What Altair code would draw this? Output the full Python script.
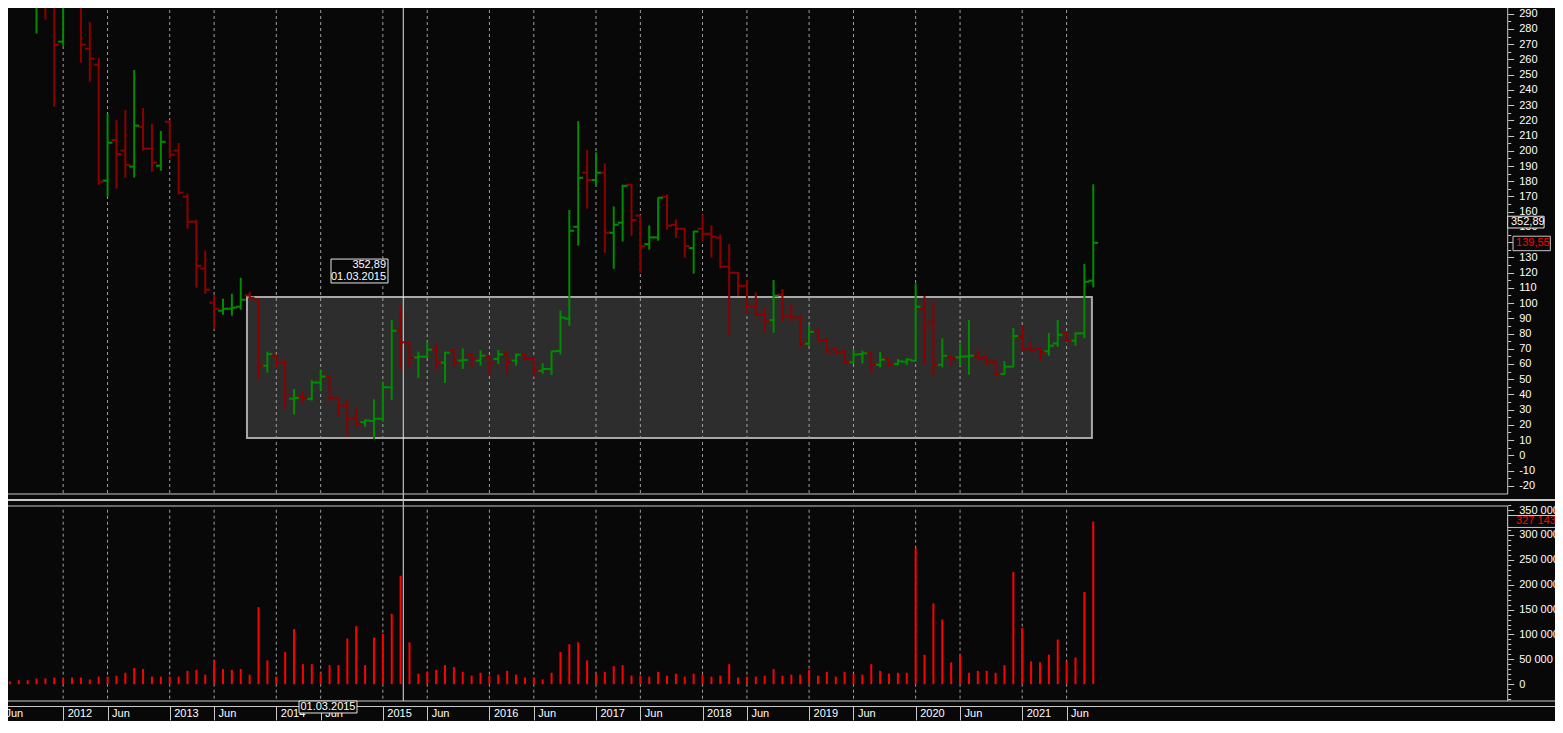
import altair as alt
import pandas as pd

# ---------------- data (months counted from Jan 2012 = 0) ----------------
months = list(range(-6, 117))  # Jul 2011 .. Sep 2021

opens = [
    None, None, None, 300, 318, 302,
    271.7, 303, 301, 267.1, 256.6, 180.4, 207.1, 200.1, 189.6, 215.8, 201.4, 190.2,
    219.1, 200.1, 169.9, 153.4, 122.6, 100.2, 95.0, 96.3, 97.6, 105.0, 102.2, 58.9,
    65.4, 61.1, 37.2, 38.6, 37.1, 47.8, 51.7, 37.7, 32.7, 24.4, 21.7, 22.6,
    24.0, 44.7, 81.8, 73.7, 64.3, 64.8, 69.4, 60.9, 68.7, 62.2, 66.3, 62.2,
    64.8, 63.3, 66.5, 62.2, 66.3, 63.7, 55.6, 56.7, 68.5, 89.7, 150.1, 185.6,
    180.8, 185.6, 146.2, 152.8, 177.7, 157.4, 138.7, 143.1, 169.8, 151.4, 148.8, 136.1,
    148.8, 145.5, 142.9, 123.9, 119.9, 111.4, 97.8, 92.3, 88.8, 105.5, 91.7, 90.4,
    73.3, 81.9, 75.7, 69.8, 68.1, 61.1, 66.5, 67.0, 59.5, 63.2, 60.0, 61.5,
    62.2, 96.1, 87.8, 59.5, 64.8, 64.3, 65.0, 65.4, 64.8, 61.5, 53.4, 58.2,
    78.4, 69.8, 69.8, 68.3, 73.5, 80.1, 75.3, 80.1, 114.7,
]
highs = [
    None, None, None, 318, 325, 306,
    312, 320, 305, 284.6, 261.0, 224.2, 220.2, 226.8, 253.1, 228.1, 217.6, 213.0,
    220.2, 205.1, 171.8, 154.7, 134.6, 105.5, 102.9, 106.1, 116.6, 107.4, 103.0, 68.1,
    66.1, 62.8, 43.6, 41.9, 49.3, 56.3, 52.4, 38.5, 36.7, 31.2, 23.7, 36.8,
    48.4, 88.9, 98.5, 74.2, 68.1, 74.4, 73.5, 68.1, 70.0, 70.2, 67.0, 68.9,
    65.2, 69.2, 68.7, 67.0, 66.5, 63.9, 60.4, 68.7, 95.0, 161.1, 219.5, 200.5,
    199.0, 191.7, 163.5, 177.7, 178.0, 157.8, 151.0, 169.4, 171.4, 154.9, 149.2, 147.3,
    158.2, 151.0, 145.1, 138.7, 120.3, 115.1, 107.0, 97.1, 115.1, 109.2, 99.3, 91.9,
    85.6, 82.3, 76.8, 70.5, 69.6, 69.8, 68.7, 67.6, 67.9, 63.9, 63.2, 63.9,
    112.9, 104.6, 100.7, 76.8, 65.4, 73.5, 88.9, 69.2, 65.7, 62.6, 61.9, 83.6,
    85.6, 74.6, 70.9, 80.3, 88.9, 80.8, 80.8, 125.6, 178.0,
]
lows = [
    None, None, None, 277, 286.1, 229,
    269, 298, 257.9, 245.4, 177.7, 169.9, 175.1, 182.4, 182.4, 200.1, 186.3, 186.9,
    194.9, 171.3, 148.8, 110.1, 106.1, 83.0, 92.3, 91.7, 95.6, 102.0, 49.7, 54.3,
    58.0, 30.5, 26.8, 34.5, 36.0, 42.5, 35.1, 25.5, 12.3, 18.4, 18.9, 10.6,
    22.1, 36.4, 56.7, 58.0, 50.8, 63.9, 56.7, 47.5, 58.5, 56.7, 57.8, 58.9,
    52.8, 60.0, 53.5, 58.9, 62.2, 51.7, 53.5, 52.8, 66.3, 85.1, 137.7, 162.0,
    176.4, 133.0, 122.5, 140.5, 144.2, 119.9, 135.0, 140.9, 148.2, 142.9, 129.8, 119.3,
    140.5, 129.8, 122.8, 79.2, 104.8, 93.2, 91.2, 81.2, 80.5, 88.0, 88.0, 71.3,
    72.1, 75.3, 67.2, 66.1, 60.4, 60.0, 60.4, 53.8, 57.8, 58.4, 59.1, 59.3,
    61.5, 59.5, 52.3, 57.8, 58.9, 58.9, 52.9, 63.2, 59.3, 52.9, 52.9, 57.8,
    68.7, 67.6, 61.5, 65.4, 71.3, 74.2, 72.0, 76.8, 110.3,
]
closes = [
    None, None, None, 308, 300, 269.7,
    303, 301, 269.7, 260.5, 179.7, 205.3, 197.9, 190.7, 216.5, 201.4, 192.2, 205.9,
    197.4, 172.5, 153.4, 124.5, 108.8, 96.3, 96.3, 97.0, 102.2, 103.5, 58.9, 66.5,
    61.1, 39.9, 37.7, 37.7, 47.8, 51.7, 37.7, 32.7, 24.4, 20.6, 22.8, 24.0,
    44.7, 81.8, 74.2, 63.9, 64.8, 69.4, 60.9, 67.4, 60.9, 62.6, 63.3, 65.4,
    60.4, 66.3, 61.5, 66.1, 63.7, 56.1, 56.7, 68.3, 90.5, 147.5, 182.3, 180.8,
    185.6, 146.2, 151.4, 177.0, 154.5, 137.4, 143.1, 169.2, 150.8, 148.8, 137.4, 147.0,
    145.5, 143.6, 123.9, 119.9, 111.4, 97.8, 92.3, 88.8, 104.8, 91.7, 91.0, 73.5,
    81.1, 75.7, 68.1, 67.6, 61.1, 66.1, 67.0, 59.5, 62.8, 60.0, 61.7, 62.8,
    97.6, 85.1, 60.0, 65.4, 63.7, 64.8, 65.4, 63.7, 61.5, 53.4, 58.2, 78.4,
    69.8, 69.2, 67.6, 72.0, 79.2, 75.3, 80.1, 114.0, 139.55,
]
volumes = [  # millions
    5.7, 7.7, 7.7, 11.5, 11.5, 13.4,
    11.5, 13.4, 13.4, 9.6, 15.3, 15.3, 17.2, 23.0, 32.5, 30.6, 15.3, 15.3,
    15.3, 15.3, 26.8, 28.7, 19.1, 47.8, 30.6, 28.7, 30.6, 19.1, 154.9, 47.8,
    15.3, 65.0, 110.9, 40.2, 40.2, 23.0, 38.3, 38.3, 91.8, 116.7, 38.3, 93.7,
    101.4, 141.5, 218.1, 84.2, 21.0, 24.9, 28.7, 38.3, 34.4, 24.9, 17.2, 23.0,
    17.2, 19.1, 26.8, 19.1, 13.4, 13.4, 9.6, 23.0, 65.0, 80.3, 84.2, 47.8,
    21.0, 24.9, 36.3, 38.3, 17.2, 17.2, 15.3, 24.9, 17.2, 21.0, 15.3, 21.0,
    19.1, 15.3, 17.2, 40.2, 13.4, 15.3, 15.3, 17.2, 30.6, 17.2, 19.1, 19.1,
    28.7, 17.2, 24.9, 15.3, 24.9, 21.0, 19.1, 40.2, 26.8, 21.0, 23.0, 23.0,
    273.5, 59.3, 162.6, 130.1, 44.0, 59.3, 23.0, 26.8, 26.8, 23.0, 38.3, 225.7,
    112.9, 45.9, 44.0, 59.3, 89.9, 45.9, 53.6, 185.5, 327.143,
]

grid_months = [-7, 0, 5, 12, 17, 24, 29, 36, 41, 48, 53, 60, 65, 72, 77, 84, 89, 96, 101, 108, 113]
price_ticks = list(range(-20, 300, 5))
volume_ticks = list(range(-30, 370, 10))

zone_x = [20.70, 115.85]
zone_y = [11.4, 104.0]
cursor_month = 38.30
cursor_date = "01.03.2015"
cursor_value = "352,89"
last_close_text = "139,55"
last_close = 139.55
last_volume_text = "327 143 036"
last_volume = 327.143

# ---------------- styling ----------------
BG = "#080808"
GREEN = "#008c00"
DARKRED = "#8c0000"
VOLRED = "#ff0000"
LINE = "#c8c8c8"
GRID = "#a0a0a0"
FONT = "Liberation Sans"

X_DOM = [-7, 168.11]
AXIS_X = 162.67
P_TOP, P_BOT = 296.4, -30.0
P_BORDER, P_SEP = -25.4, -29.36
V_TOP, V_BOT = 368.3, -33.8
V_BORDER, V_GRID_TOP = 358.25, 350.8

df = pd.DataFrame({"i": months, "o": opens, "h": highs, "l": lows, "c": closes, "v": volumes})
df["dir"] = ["up" if (o is not None and c is not None and c >= o) else "down"
             for o, c in zip(opens, closes)]

xs = alt.Scale(domain=X_DOM, nice=False, zero=False)
ps = alt.Scale(domain=[P_BOT, P_TOP], nice=False, zero=False)
vs = alt.Scale(domain=[V_BOT, V_TOP], nice=False, zero=False)

price_axis = alt.Axis(
    orient="right", offset=-48.3, values=price_ticks,
    labelExpr="datum.value % 10 == 0 ? toString(datum.value) : ''",
    tickSize={"condition": {"test": "datum.value % 10 == 0", "value": 6}, "value": 3},
    tickColor=LINE, labelColor="white", labelPadding=5, labelOverlap=False,
    labelBound=False, labelFlush=False, domain=False, grid=False, title=None,
    labelBaseline="middle", labelAlign="left", labelFont=FONT, labelFontSize=11,
)
vol_axis = alt.Axis(
    orient="right", offset=-48.3, values=volume_ticks,
    labelExpr=("datum.value % 50 != 0 ? '' : (datum.value == 0 ? '0' : "
               "slice(replace(format(datum.value * 1000000, ','), regexp(',', 'g'), ' '), 0, 7))"),
    tickSize={"condition": {"test": "datum.value % 50 == 0", "value": 6}, "value": 3},
    tickColor=LINE, labelColor="white", labelPadding=5, labelOverlap=False,
    labelBound=False, labelFlush=False, domain=False, grid=False, title=None,
    labelBaseline="middle", labelAlign="left", labelFont=FONT, labelFontSize=11,
)
x_axis = alt.Axis(
    values=grid_months, orient="bottom", offset=5, tickSize=14,
    labelExpr=("(datum.value % 12 == 5 || datum.value % 12 == -7) ? 'Jun' : "
               "toString(2012 + floor(datum.value / 12))"),
    tickColor=LINE, domainColor=LINE, labelColor="white", labelAlign="left",
    labelBaseline="middle", labelPadding=-7, labelOffset=4, labelFont=FONT, labelFontSize=11,
    grid=False, title=None, labelFlush=False, labelOverlap=False, labelBound=False,
)


def PX(f):
    return alt.X(f, scale=xs, axis=None)


def PY(f):
    return alt.Y(f, scale=ps, axis=price_axis)


def VX(f):
    return alt.X(f, scale=xs, axis=x_axis)


def VY(f):
    return alt.Y(f, scale=vs, axis=vol_axis)


color = alt.Color("dir:N", scale=alt.Scale(domain=["up", "down"], range=[GREEN, DARKRED]), legend=None)

# ---------------- price panel ----------------
zone = alt.Chart(pd.DataFrame({"x0": [zone_x[0]], "x1": [zone_x[1]], "y0": [zone_y[0]], "y1": [zone_y[1]]})
                 ).mark_rect(fill="#2d2d2d", stroke="#a8a8a8", strokeWidth=2).encode(
    x=PX("x0:Q"), x2="x1:Q", y=PY("y0:Q"), y2="y1:Q")

grid_df = pd.DataFrame({"g": grid_months})
pgrid = alt.Chart(grid_df).transform_calculate(t=str(P_TOP), b=str(P_BORDER)).mark_rule(
    color=GRID, strokeDash=[3, 3], strokeWidth=1, clip=True).encode(x=PX("g:Q"), y=PY("t:Q"), y2="b:Q")

pcursor = alt.Chart(pd.DataFrame({"x": [cursor_month], "t": [P_TOP], "b": [P_BOT]})).mark_rule(
    color="#e6e6e6", strokeWidth=1, clip=True).encode(x=PX("x:Q"), y=PY("t:Q"), y2="b:Q")

base = alt.Chart(df)
hl = base.mark_rule(strokeWidth=2, clip=True).encode(x=PX("i:Q"), y=PY("l:Q"), y2="h:Q", color=color)
otick = base.transform_calculate(xl="datum.i - 0.55").mark_rule(strokeWidth=2, clip=True).encode(
    x=PX("xl:Q"), x2="i:Q", y=PY("o:Q"), color=color)
ctick = base.transform_calculate(xr="datum.i + 0.55").mark_rule(strokeWidth=2, clip=True).encode(
    x=PX("i:Q"), x2="xr:Q", y=PY("c:Q"), color=color)

pborder = alt.Chart(pd.DataFrame({"x0": [-7], "x1": [AXIS_X], "y": [P_BORDER]})).mark_rule(
    color=LINE, strokeWidth=1).encode(x=PX("x0:Q"), x2="x1:Q", y=PY("y:Q"))
paxis = alt.Chart(pd.DataFrame({"x": [AXIS_X], "t": [P_TOP], "b": [P_BORDER]})).mark_rule(
    color=LINE, strokeWidth=1, clip=True).encode(x=PX("x:Q"), y=PY("t:Q"), y2="b:Q")
psep = alt.Chart(pd.DataFrame({"x0": [-7], "x1": [X_DOM[1]], "y": [P_SEP]})).mark_rule(
    color=LINE, strokeWidth=2).encode(x=PX("x0:Q"), x2="x1:Q", y=PY("y:Q"))

tip_box = alt.Chart(pd.DataFrame({"x0": [30.16], "x1": [36.58], "y0": [113.2], "y1": [128.9]})).mark_rect(
    fill=BG, stroke="#e6e6e6", strokeWidth=1).encode(x=PX("x0:Q"), x2="x1:Q", y=PY("y0:Q"), y2="y1:Q")
tip_text = alt.Chart(pd.DataFrame({"x": [36.36, 36.36], "y": [125.0, 117.3], "t": [cursor_value, cursor_date]})
                     ).mark_text(align="right", baseline="middle", color="white", font=FONT, fontSize=11).encode(
    x=PX("x:Q"), y=PY("y:Q"), text="t:N")

val_box = alt.Chart(pd.DataFrame({"x0": [AXIS_X], "x1": [166.77], "y0": [149.3], "y1": [157.0]})).mark_rect(
    fill=BG, stroke="#e6e6e6", strokeWidth=1).encode(x=PX("x0:Q"), x2="x1:Q", y=PY("y0:Q"), y2="y1:Q")
val_text = alt.Chart(pd.DataFrame({"x": [163.04], "y": [153.2], "t": [cursor_value]})).mark_text(
    align="left", baseline="middle", color="white", font=FONT, fontSize=11).encode(
    x=PX("x:Q"), y=PY("y:Q"), text="t:N")
close_box = alt.Chart(pd.DataFrame({"x0": [163.27], "x1": [167.47], "y0": [134.4], "y1": [143.9]})).mark_rect(
    fill=BG, stroke="#c8c8c8", strokeWidth=1).encode(x=PX("x0:Q"), x2="x1:Q", y=PY("y0:Q"), y2="y1:Q")
close_text = alt.Chart(pd.DataFrame({"x": [163.61], "y": [last_close], "t": [last_close_text]})).mark_text(
    align="left", baseline="middle", color=VOLRED, font=FONT, fontSize=11).encode(
    x=PX("x:Q"), y=PY("y:Q"), text="t:N")

price = alt.layer(zone, pgrid, pcursor, hl, otick, ctick, pborder, paxis, psep,
                  tip_box, tip_text, val_box, val_text, close_box, close_text
                  ).properties(width=1555, height=497)

# ---------------- volume panel ----------------
vgrid = alt.Chart(grid_df).transform_calculate(t=str(V_GRID_TOP), b=str(V_BOT)).mark_rule(
    color=GRID, strokeDash=[3, 3], strokeWidth=1).encode(x=VX("g:Q"), y=VY("t:Q"), y2="b:Q")
vcursor = alt.Chart(pd.DataFrame({"x": [cursor_month], "t": [V_TOP], "b": [V_BOT]})).mark_rule(
    color="#e6e6e6", strokeWidth=1, clip=True).encode(x=VX("x:Q"), y=VY("t:Q"), y2="b:Q")
vbars = base.transform_calculate(z="0").mark_rule(color=VOLRED, strokeWidth=2, clip=True).encode(
    x=VX("i:Q"), y=VY("v:Q"), y2="z:Q")
vborder = alt.Chart(pd.DataFrame({"x0": [-7], "x1": [AXIS_X], "y": [V_BORDER]})).mark_rule(
    color=LINE, strokeWidth=1).encode(x=VX("x0:Q"), x2="x1:Q", y=VY("y:Q"))
vaxis = alt.Chart(pd.DataFrame({"x": [AXIS_X], "t": [V_BORDER], "b": [V_BOT]})).mark_rule(
    color=LINE, strokeWidth=1).encode(x=VX("x:Q"), y=VY("t:Q"), y2="b:Q")
vstrip = alt.Chart(pd.DataFrame({"x0": [-7], "x1": [X_DOM[1]], "y": [V_BOT]})).mark_rule(
    color=LINE, strokeWidth=1).encode(x=VX("x0:Q"), x2="x1:Q", y=VY("y:Q"))
vol_box = alt.Chart(pd.DataFrame({"x0": [AXIS_X], "x1": [X_DOM[1]], "y0": [last_volume - 12], "y1": [last_volume + 12]})
                    ).mark_rect(fill=BG, stroke="#c8c8c8", strokeWidth=1).encode(
    x=VX("x0:Q"), x2="x1:Q", y=VY("y0:Q"), y2="y1:Q")
vol_text = alt.Chart(pd.DataFrame({"x": [163.61], "y": [last_volume], "t": [last_volume_text]})).mark_text(
    align="left", baseline="middle", color=VOLRED, font=FONT, fontSize=11, clip=True).encode(
    x=VX("x:Q"), y=VY("y:Q"), text="t:N")
date_box = alt.Chart(pd.DataFrame({"x0": [26.56], "x1": [33.09], "y0": [-57.9], "y1": [-33.8]})).mark_rect(
    fill=BG, stroke="#e6e6e6", strokeWidth=1).encode(x=VX("x0:Q"), x2="x1:Q", y=VY("y0:Q"), y2="y1:Q")
date_text = alt.Chart(pd.DataFrame({"x": [29.82], "y": [-45.9], "t": [cursor_date]})).mark_text(
    align="center", baseline="middle", color="white", font=FONT, fontSize=11).encode(
    x=VX("x:Q"), y=VY("y:Q"), text="t:N")

volume = alt.layer(vgrid, vcursor, vbars, vborder, vaxis, vstrip, vol_box, vol_text, date_box, date_text
                   ).properties(width=1555, height=200)

chart = alt.vconcat(price, volume, spacing=0, bounds="flush").properties(
    padding={"left": -8, "top": -8, "right": -4, "bottom": 0},
    background=BG,
).configure_view(stroke=None).configure_text(font=FONT, fontSize=11)

chart.save("out.html", embed_options={"renderer": "svg", "actions": False})
